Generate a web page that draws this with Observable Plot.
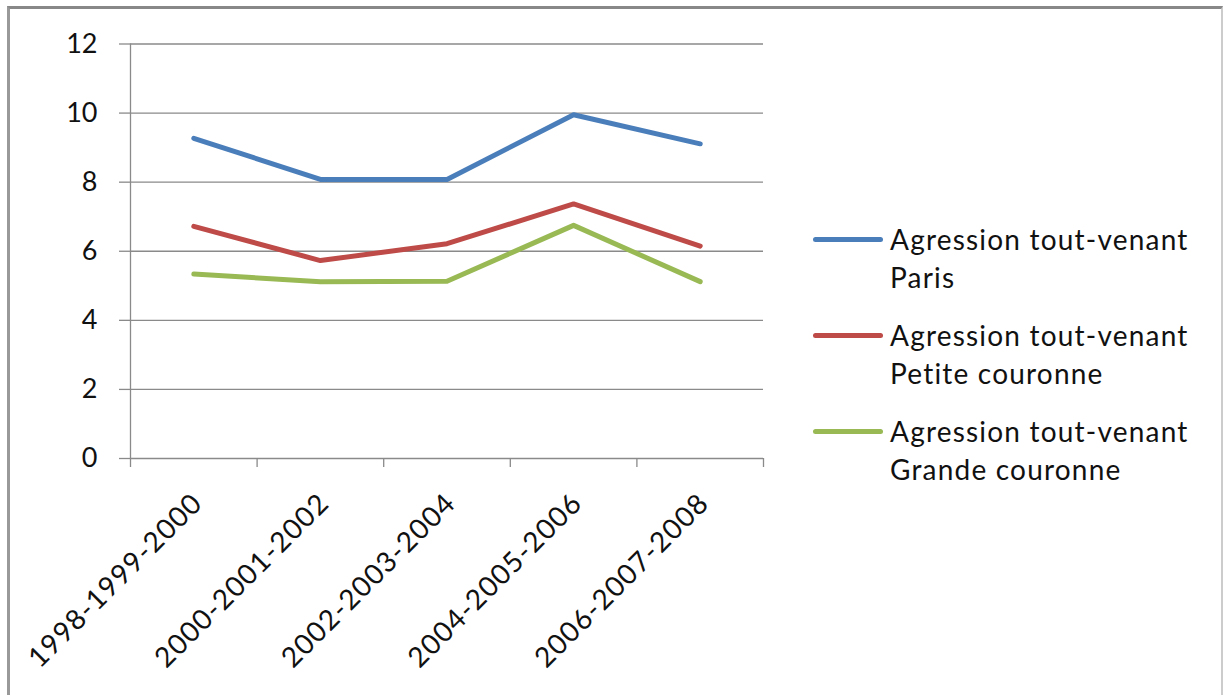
<!DOCTYPE html>
<html>
<head>
<meta charset="utf-8">
<script src="https://cdn.jsdelivr.net/npm/d3@7"></script>
<script src="https://cdn.jsdelivr.net/npm/@observablehq/plot@0.6"></script>
<style>
  html, body { margin: 0; padding: 0; background: #fff; }
  #wrap { position: relative; width: 1227px; height: 695px; overflow: hidden; font-family: Lato, "Open Sans", sans-serif; }
  #border { position: absolute; left: 7px; top: 6px; width: 1216px; height: 720px; border-top: 3px solid #888; border-left: 3px solid #999; border-right: 2px solid #ccc; box-sizing: border-box; }
  #chart { position: absolute; left: 0; top: 0; }
  #legend { position: absolute; left: 813px; top: 220px; color: #111; font-size: 28px; line-height: 38px; letter-spacing: 1.2px; }
  .entry { position: relative; height: 96px; }
  .swatch { position: absolute; left: 0; top: 17px; width: 70px; height: 5px; border-radius: 3px; }
  .label { position: absolute; left: 77px; top: 0; white-space: nowrap; }
  #chart svg g[aria-label="x-axis tick label"] text { letter-spacing: 1.2px; }
</style>
</head>
<body>
<div id="wrap">
  <div id="border"></div>
  <div id="chart"></div>
  <div id="legend"></div>
</div>
<script>
const categories = ["1998-1999-2000", "2000-2001-2002", "2002-2003-2004", "2004-2005-2006", "2006-2007-2008"];
const seriesNames = ["Agression tout-venant Paris", "Agression tout-venant Petite couronne", "Agression tout-venant Grande couronne"];
const legendLines = [["Agression tout-venant", "Paris"], ["Agression tout-venant", "Petite couronne"], ["Agression tout-venant", "Grande couronne"]];
const paris = [9.27, 8.08, 8.08, 9.95, 9.11];
const petiteCouronne = [6.72, 5.73, 6.22, 7.37, 6.15];
const grandeCouronne = [5.34, 5.12, 5.13, 6.75, 5.12];
const colors = ["#4a7ebb", "#be4b48", "#98b954"];
const yTicks = [0, 2, 4, 6, 8, 10, 12];

const seriesValues = [paris, petiteCouronne, grandeCouronne];
const data = [];
seriesValues.forEach((vals, s) => vals.forEach((v, i) => data.push({series: seriesNames[s], i: i + 0.5, value: v})));

const gridColor = "#8a8a8a";
const chart = Plot.plot({
  width: 1227,
  height: 695,
  marginLeft: 130,
  marginRight: 464,
  marginTop: 43.5,
  marginBottom: 237,
  style: {fontFamily: "Lato, 'Open Sans', sans-serif", fontSize: "27px", color: "#111", background: "transparent"},
  x: {type: "linear", domain: [0, 5]},
  y: {domain: [0, 12]},
  color: {domain: seriesNames, range: colors},
  marks: [
    Plot.gridY(yTicks, {stroke: gridColor, strokeOpacity: 1, strokeWidth: 1.3}),
    Plot.ruleX([0], {y1: 0, y2: 12, stroke: gridColor, strokeWidth: 1.3}),
    Plot.axisY({ticks: yTicks, tickSize: 11, tickPadding: 22, stroke: gridColor, strokeWidth: 1.3, fontSize: 27, label: null}),
    Plot.axisX({ticks: [0, 1, 2, 3, 4, 5], tickSize: 9, tickFormat: () => "", stroke: gridColor, strokeWidth: 1.3, label: null}),
    Plot.axisX({ticks: [0.5, 1.5, 2.5, 3.5, 4.5], tickSize: 0, tickPadding: 40, dx: 4, tickRotate: -45, tickFormat: d => categories[Math.round(d - 0.5)], fontSize: 28, label: null}),
    Plot.line(data, {x: "i", y: "value", z: "series", stroke: "series", strokeWidth: 5, strokeLinecap: "round", strokeLinejoin: "round"})
  ]
});
document.getElementById("chart").appendChild(chart);

const legend = document.getElementById("legend");
legendLines.forEach((lines, s) => {
  const e = document.createElement("div");
  e.className = "entry";
  const sw = document.createElement("div");
  sw.className = "swatch";
  sw.style.background = colors[s];
  const lab = document.createElement("div");
  lab.className = "label";
  lab.innerHTML = lines.join("<br>");
  e.appendChild(sw); e.appendChild(lab);
  legend.appendChild(e);
});
</script>
</body>
</html>
